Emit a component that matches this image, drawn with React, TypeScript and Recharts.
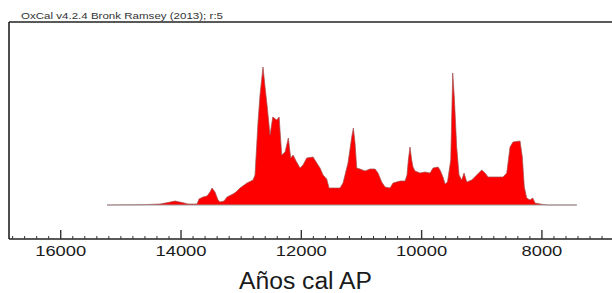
import React from 'react'
import { AreaChart, Area, XAxis, YAxis, ReferenceLine } from 'recharts'

// summed calibrated probability (relative units)
const years = [
  15230, 14632, 14349, 14216, 14100, 13983, 13884, 13734, 13701, 13634, 13568, 13518, 13485, 13435, 13385,
  13352, 13285, 13235, 13136, 13086, 13019, 12903, 12803, 12770, 12720, 12687, 12637, 12603, 12570, 12520,
  12475, 12409, 12369, 12326, 12270, 12216, 12176, 12137, 12088, 12021, 11972, 11911, 11805, 11722, 11689,
  11639, 11578, 11539, 11357, 11307, 11224, 11162, 11135, 11107, 11079, 11024, 10941, 10858, 10775, 10725,
  10664, 10608, 10525, 10475, 10359, 10276, 10243, 10221, 10193, 10165, 10143, 10110, 10027, 9944, 9860,
  9810, 9727, 9694, 9639, 9611, 9570, 9516, 9483, 9456, 9417, 9378, 9333, 9295, 9250, 9167,
  9084, 9001, 8946, 8896, 8697, 8647, 8585, 8530, 8481, 8364, 8326, 8293, 8253, 8198, 8153,
  8115, 7982, 7899, 7420,
]
const prob = [
  0, 0.3, 1, 2.5, 4, 2.5, 1, 1, 6, 8, 9, 13, 17, 13, 5,
  3, 4, 8, 11, 13, 17, 22, 25, 30, 83, 110, 138, 118, 100, 70,
  88, 85, 88, 50, 53, 67, 47, 50, 44, 37, 40, 47, 48, 40, 37,
  30, 26, 17, 17, 22, 42, 68, 77, 62, 37, 36, 34, 36, 36, 32,
  23, 18, 17, 22, 24, 24, 30, 45, 58, 45, 38, 34, 32, 33, 32,
  37, 38, 35, 27, 21, 23, 45, 132, 107, 58, 30, 25, 32, 23, 25,
  30, 35, 32, 28, 28, 28, 32, 58, 63, 64, 48, 18, 7, 5, 7,
  2, 0.5, 0, 0,
]

const majorTicks = [16000, 14000, 12000, 10000, 8000]
const xDomain = [6835, 16860]
const yDomain = [-34, 183]

const minorTicks: number[] = []
for (let t = 7000; t <= 16800; t += 200) minorTicks.push(t)

const data = years.map((year, i) => ({ year, prob: prob[i] }))

const FONT = '"Liberation Sans", Arial, sans-serif'

function YearTick({ x, y, payload }: any) {
  const major = majorTicks.includes(payload.value)
  const label = String(payload.value)
  return (
    <g>
      <line x1={x} x2={x} y1={y} y2={y - (major ? 9 : 3)} stroke="#333" strokeWidth={major ? 1.4 : 1} />
      {major && (
        <text
          x={x}
          y={y + 17}
          textAnchor="middle"
          fontSize={15}
          fontFamily={FONT}
          fill="#1a1a1a"
          textLength={label.length * 10.2}
          lengthAdjust="spacingAndGlyphs"
        >
          {label}
        </text>
      )}
    </g>
  )
}

export default function App() {
  return (
    <div style={{ position: 'absolute', left: 0, top: 0, width: 612, height: 293, overflow: 'hidden', background: '#fff' }}>
      <AreaChart width={612} height={293} data={data} margin={{ top: 22, right: 0, bottom: 0, left: 9 }}>
        <XAxis
          dataKey="year"
          type="number"
          domain={xDomain}
          reversed
          allowDataOverflow
          ticks={minorTicks}
          interval={0}
          tick={<YearTick />}
          tickLine={false}
          tickSize={0}
          tickMargin={0}
          height={54}
          axisLine={{ stroke: '#222', strokeWidth: 1.6 }}
        />
        <YAxis type="number" domain={yDomain} allowDataOverflow width={0} tick={false} tickLine={false} axisLine={false} />
        <ReferenceLine y={yDomain[1]} stroke="#222" strokeWidth={1.6} ifOverflow="visible" />
        <ReferenceLine x={xDomain[1]} stroke="#222" strokeWidth={1.6} ifOverflow="visible" />
        <ReferenceLine
          segment={[{ x: years[0], y: 0 }, { x: years[years.length - 1], y: 0 }]}
          stroke="#9a9a9a"
          strokeWidth={1}
          ifOverflow="visible"
        />
        <Area
          type="linear"
          dataKey="prob"
          baseValue={0}
          fill="#ff0000"
          fillOpacity={1}
          stroke="#a05050"
          strokeWidth={0.7}
          isAnimationActive={false}
        />
        <text x={21} y={19} fontSize={9} fontFamily={FONT} fill="#333" textLength={202} lengthAdjust="spacingAndGlyphs">
          OxCal v4.2.4 Bronk Ramsey (2013); r:5
        </text>
        <text x={239} y={289} fontSize={23} fontFamily={FONT} fill="#1a1a1a" textLength={133} lengthAdjust="spacingAndGlyphs">
          Años cal AP
        </text>
      </AreaChart>
    </div>
  )
}
